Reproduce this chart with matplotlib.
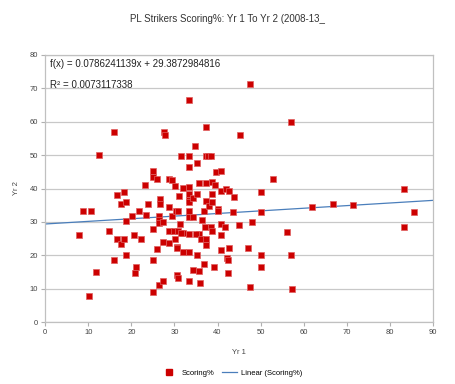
import numpy as np
import matplotlib
matplotlib.use('Agg')
from matplotlib import pyplot as plt
from matplotlib.lines import Line2D

plt.rcParams['font.family'] = ['Liberation Sans', 'DejaVu Sans']

# Yr 1 / Yr 2 scoring% per striker
yr1 = [15.9, 12.5, 8.8, 10.7, 7.8, 14.8, 16.6, 17.5, 18.3, 16.6,
       18.3, 17.5, 18.8, 18.8, 20.1, 20.7, 21.7, 22.3, 23.1, 23.4,
       23.8, 25.0, 25.0, 26.0, 25.0, 26.7, 26.7, 26.5, 26.5, 26.4,
       27.3, 26.0, 27.3, 27.7, 27.8, 28.7, 29.5, 30.1, 28.7, 29.5,
       28.7, 29.9, 30.9, 30.1, 30.6, 30.3, 30.8, 31.2, 31.1, 31.5,
       32.1, 31.9, 31.9, 33.4, 33.4, 33.4, 33.4, 33.4, 33.4, 33.4,
       33.4, 33.4, 33.4, 34.3, 34.3, 34.8, 35.3, 35.3, 35.3, 35.7,
       35.6, 35.0, 36.1, 36.5, 36.9, 37.4, 37.4, 37.4, 37.4, 37.4,
       37.4, 37.1, 37.9, 38.4, 38.0, 38.4, 38.8, 38.8, 38.8, 38.8,
       39.3, 39.6, 40.1, 40.1, 40.8, 40.8, 40.8, 40.8, 41.8, 40.8,
       41.9, 42.7, 42.7, 57.1, 45.2, 52.9, 43.8, 50.0, 43.5, 50.0,
       61.9, 66.7, 71.4, 83.3, 85.6, 83.3, 45.0, 48.0, 56.2, 47.1,
       50.0, 57.1, 42.3, 18.8, 15.9, 11.8, 10.1, 21.0, 20.9, 25.0,
       25.0, 26.5, 27.3, 28.7, 30.5, 30.5, 30.8, 33.3, 34.3, 35.7,
       36.0, 36.9, 39.1, 42.4, 42.4, 47.5, 50.1, 57.2, 33.3, 47.6,
       31.6]
yr2 = [57.0, 50.0, 33.4, 33.4, 26.0, 27.3, 25.0, 23.5, 25.0, 38.0,
       38.9, 35.5, 35.9, 30.4, 31.9, 26.2, 33.4, 25.0, 41.0, 32.0,
       35.3, 45.4, 43.5, 42.8, 28.0, 36.9, 35.4, 31.9, 30.5, 29.7,
       30.0, 21.9, 23.9, 57.0, 56.0, 42.8, 42.6, 40.8, 34.4, 31.9,
       27.2, 27.2, 27.2, 24.9, 22.4, 33.2, 33.2, 29.4, 37.7, 49.8,
       40.1, 26.6, 21.0, 49.8, 46.5, 40.6, 38.4, 36.6, 35.9, 33.4,
       31.4, 26.4, 21.0, 37.2, 31.4, 52.8, 47.6, 38.4, 20.1, 41.6,
       26.4, 26.4, 25.0, 30.6, 33.4, 58.3, 49.8, 41.6, 36.2, 25.0,
       23.0, 28.4, 49.8, 49.8, 34.8, 28.4, 27.2, 38.4, 35.9, 42.1,
       41.0, 45.0, 34.0, 33.2, 45.4, 39.4, 26.0, 29.4, 28.4, 21.7,
       39.9, 39.3, 22.2, 60.0, 56.1, 42.9, 37.6, 39.1, 33.0, 33.0,
       34.6, 35.3, 35.1, 40.0, 33.0, 28.4, 29.2, 30.1, 27.1, 22.1,
       20.1, 20.1, 19.3, 20.0, 18.7, 14.9, 7.7, 16.6, 14.7, 18.7,
       9.0, 11.0, 12.3, 23.6, 22.1, 14.2, 13.3, 12.3, 15.7, 15.3,
       11.7, 17.3, 16.6, 18.7, 14.7, 10.6, 16.6, 10.0, 66.6, 71.4,
       26.8]

slope = 0.0786241139
intercept = 29.3872984816

fig = plt.figure(figsize=(4.55, 3.84), dpi=100)
ax = fig.add_axes([0.099, 0.161, 0.853, 0.696])

ax.scatter(yr1, yr2, marker='s', s=20, color='#cc0000', edgecolors='#e06060',
           linewidths=0.5, zorder=3)
xs = np.array([0, 90])
ax.plot(xs, slope * xs + intercept, color='#4a7ebb', lw=0.9, zorder=2)

ax.set_xlim(0, 90)
ax.set_ylim(0, 80)
ax.set_xticks(range(0, 91, 10))
ax.set_yticks(range(0, 81, 10))
ax.grid(axis='y', color='#c8c8c8', lw=0.9)
ax.set_axisbelow(True)
for s in ax.spines.values():
    s.set_color('#c0c0c0')
    s.set_linewidth(0.9)
ax.tick_params(colors='#b0b0b0', labelcolor='#444444', labelsize=5.5,
               length=3, width=0.8, pad=2)

ax.set_xlabel('Yr 1', fontsize=5.5, color='#444444', labelpad=9)
ax.set_ylabel('Yr 2', fontsize=5.5, color='#444444', labelpad=7)

fig.text(0.5, 0.95, 'PL Strikers Scoring%: Yr 1 To Yr 2 (2008-13_',
         ha='center', va='center', fontsize=7, color='#333333')

eq_font = ['Liberation Sans Narrow', 'Liberation Sans', 'DejaVu Sans']
ax.text(0.012, 0.985, 'f(x) = 0.0786241139x + 29.3872984816', transform=ax.transAxes,
        ha='left', va='top', fontsize=7, family=eq_font, color='#222222')
ax.text(0.012, 0.905, 'R² = 0.0073117338', transform=ax.transAxes,
        ha='left', va='top', fontsize=7, family=eq_font, color='#222222')

handles = [Line2D([], [], marker='s', ls='none', color='#cc0000', markersize=5),
           Line2D([], [], color='#4a7ebb', lw=0.9)]
fig.legend(handles, ['Scoring%', 'Linear (Scoring%)'], loc='center',
           bbox_to_anchor=(0.51, 0.028), ncol=2, frameon=False, fontsize=5.5,
           handlelength=2.0, columnspacing=1.0, handletextpad=0.6)

plt.savefig('out.png', dpi=100)
